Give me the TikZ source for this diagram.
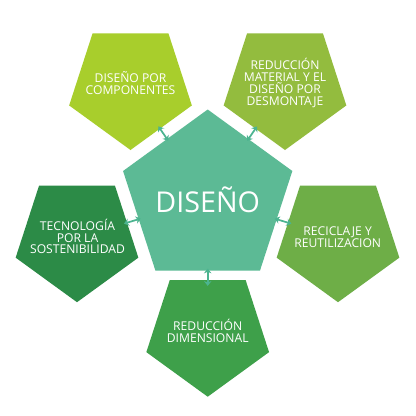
\documentclass[tikz,border=0pt]{standalone}
\usepackage{fontspec}
\setmainfont{Open Sans}
\usetikzlibrary{shapes.geometric,calc,arrows.meta}
\definecolor{cHub}{RGB}{92,186,149}
\definecolor{cTL}{RGB}{168,206,44}
\definecolor{cTR}{RGB}{147,188,62}
\definecolor{cR}{RGB}{110,174,71}
\definecolor{cB}{RGB}{62,160,74}
\definecolor{cL}{RGB}{44,139,71}
\definecolor{cArrow}{RGB}{76,180,144}
\begin{document}
\begin{tikzpicture}[x=0.75pt,y=-0.75pt,
  pent/.style={regular polygon, regular polygon sides=5, inner sep=0pt, outer sep=0pt, draw=none},
  outerpent/.style={pent, minimum size=96.75pt, regular polygon rotate=180},
  hubpent/.style={pent, minimum size=133.5pt},
  lbl/.style={text=white, align=center, inner sep=0pt, font=\fontsize{9.1}{8.9}\selectfont},
  hublbl/.style={text=white, inner sep=0pt, font=\fontsize{21.5}{24}\selectfont},
  arr/.style={draw=cArrow, line width=1.3pt, {Stealth[length=3.6pt,width=5.6pt]}-{Stealth[length=3.6pt,width=5.6pt]}}
]
\useasboundingbox (0,0) rectangle (416,415);
\fill[white] (0,0) rectangle (416,415);
% pentagons
\node[hubpent, fill=cHub] (hub) at (207.7,198.5) {};
\node[outerpent, fill=cTL] (tl) at (130.5,85.5) {};
\node[outerpent, fill=cTR] (tr) at (285,85.5) {};
\node[outerpent, fill=cL] (l) at (77,237.7) {};
\node[outerpent, fill=cR] (r) at (338,237.7) {};
\node[outerpent, fill=cB] (b) at (207.7,332.2) {};
% texts
\node[hublbl] (thub) at (207.7,199.7) {DISEÑO};
\node[lbl] (ttl) at (130.5,83) {DISEÑO POR\\COMPONENTES};
\node[lbl] (ttr) at (285,83) {REDUCCIÓN\\MATERIAL Y EL\\DISEÑO POR\\DESMONTAJE};
\node[lbl] (tl2) at (77.5,236.5) {TECNOLOGÍA\\POR LA\\SOSTENIBILIDAD};
\node[lbl] (tr2) at (337.7,237.5) {RECICLAJE Y\\REUTILIZACION};
\node[lbl] (tb) at (207.7,331.2) {REDUCCIÓN\\DIMENSIONAL};
% connectors
\foreach \o in {tl,tr,l,r,b}{
  \draw[arr] ($(hub.center)!52.5pt!(\o.center)$) -- ($(hub.center)!65.5pt!(\o.center)$);
}
\end{tikzpicture}
\end{document}
